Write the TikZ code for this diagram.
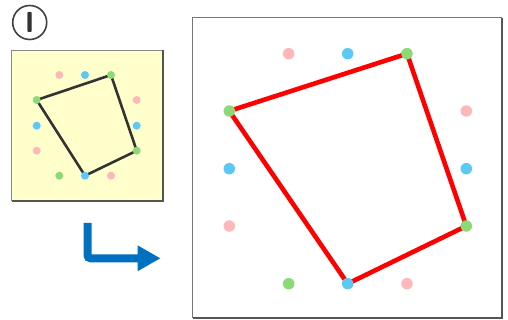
\documentclass[tikz,border=0pt]{standalone}
\usetikzlibrary{arrows.meta}
\definecolor{dotpink}{HTML}{FFB8BA}
\definecolor{dotblue}{HTML}{5CC9F5}
\definecolor{dotgreen}{HTML}{8CD978}
\definecolor{padyellow}{HTML}{FFFFCC}
\definecolor{arrowblue}{HTML}{0070C0}
\definecolor{framegray}{HTML}{555555}

\tikzset{
  sdot/.style={circle,fill=#1,inner sep=0pt,minimum size=8pt},
  bdot/.style={circle,fill=#1,inner sep=0pt,minimum size=11.5pt},
}

\begin{document}
\begin{tikzpicture}[x=1pt,y=-1pt]
\useasboundingbox (0,0) rectangle (508,320);
% step number
\node[circle,draw=black!75,line width=1.6pt,minimum size=34pt,inner sep=0pt,text=black!80,font=\sffamily\bfseries\fontsize{29}{29}\selectfont] (stepnum) at (29.7,22.5) {I};
% small pad
\fill[padyellow] (11.7,50) rectangle (163,201);
\draw[framegray!70,line width=0.8pt] (11.7,201) -- (11.7,50) -- (163,50);
\draw[framegray,line width=2pt] (163,50) -- (163,201) -- (11.7,201);
\coordinate (sa) at (36.7,100);
\coordinate (sb) at (111,75);
\coordinate (sc) at (136.7,150.7);
\coordinate (sd) at (85,175.7);
\draw[black!80,line width=2.6pt,line join=round] (sa) -- (sb) -- (sc) -- (sd) -- cycle;
\node[sdot=dotpink] (s1) at (59.3,75) {};
\node[sdot=dotblue] (s2) at (85,75) {};
\node[sdot=dotgreen] (s3) at (sb) {};
\node[sdot=dotgreen] (s4) at (sa) {};
\node[sdot=dotblue] (s5) at (36.7,125.7) {};
\node[sdot=dotpink] (s6) at (36.7,150.7) {};
\node[sdot=dotpink] (s7) at (136.7,100) {};
\node[sdot=dotblue] (s8) at (136.7,125.7) {};
\node[sdot=dotgreen] (s9) at (sc) {};
\node[sdot=dotgreen] (s10) at (59.3,175.7) {};
\node[sdot=dotblue] (s11) at (sd) {};
\node[sdot=dotpink] (s12) at (111,175.7) {};
% arrow
\coordinate (arrowstart) at (87.5,223);
\coordinate (arrowend) at (160.7,258.3);
\draw[arrowblue,line width=8pt,rounded corners=3pt,-{Triangle[length=23pt,width=24pt]}] (arrowstart) |- (arrowend);
% large board
\draw[framegray!80,line width=1.2pt] (192.5,318) -- (192.5,17.7) -- (502,17.7);
\draw[framegray,line width=2pt] (502,17.7) -- (502,318) -- (192.5,318);
\coordinate (ba) at (229.3,111);
\coordinate (bb) at (407,53.7);
\coordinate (bc) at (466.3,226);
\coordinate (bd) at (347.7,283.7);
\draw[red,line width=4.6pt,line join=round] (ba) -- (bb) -- (bc) -- (bd) -- cycle;
\node[bdot=dotpink] (b1) at (288.7,53.7) {};
\node[bdot=dotblue] (b2) at (347.7,53.7) {};
\node[bdot=dotgreen] (b3) at (bb) {};
\node[bdot=dotgreen] (b4) at (ba) {};
\node[bdot=dotblue] (b5) at (229.3,168.7) {};
\node[bdot=dotpink] (b6) at (229.3,226) {};
\node[bdot=dotpink] (b7) at (466.3,111) {};
\node[bdot=dotblue] (b8) at (466.3,168.7) {};
\node[bdot=dotgreen] (b9) at (bc) {};
\node[bdot=dotgreen] (b10) at (288.7,283.7) {};
\node[bdot=dotblue] (b11) at (bd) {};
\node[bdot=dotpink] (b12) at (407,283.7) {};
\end{tikzpicture}
\end{document}
